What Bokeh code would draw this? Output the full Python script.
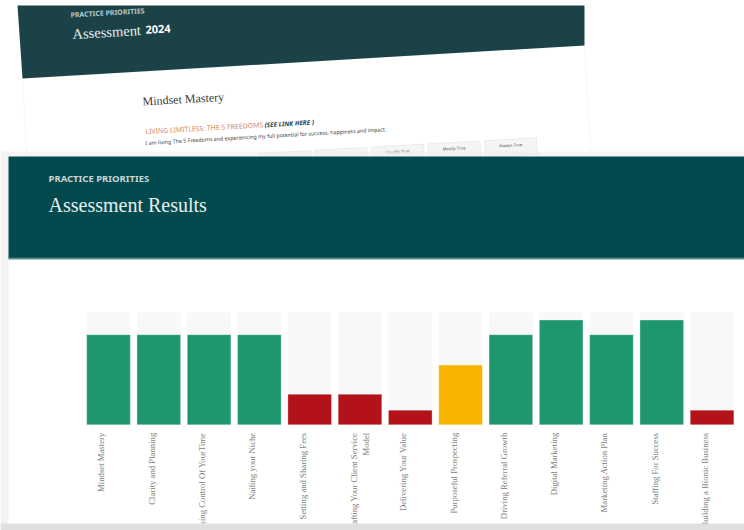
import math
from bokeh.plotting import figure
from bokeh.models import (FactorRange, Range1d, ColumnDataSource, BoxAnnotation,
                          PolyAnnotation, Label)
from bokeh.transform import dodge
from bokeh.embed import file_html
from bokeh.resources import INLINE
from bokeh.core.properties import value

# ---------------- data ----------------
categories = [
    "Mindset Mastery", "Clarity and Planning", "Taking Control Of YourTime",
    "Nailing your Niche", "Setting and Sharing Fees",
    "Crafting Your Client Service Model", "Delivering Your Value",
    "Purposeful Prospecting", "Driving Referral Growth", "Digital Marketing",
    "Marketing Action Plan", "Staffing For Success", "Building a Bionic Business",
]
tick_labels = [
    "Mindset Mastery", "Clarity and Planning", "Taking Control Of YourTime",
    "Nailing your Niche", "Setting and Sharing Fees",
    "Crafting Your Client Service\nModel", "Delivering Your Value",
    "Purposeful Prospecting", "Driving Referral Growth", "Digital Marketing",
    "Marketing Action Plan", "Staffing For Success", "Building a Bionic Business",
]
scores = [80, 80, 80, 80, 27, 27, 13, 53, 80, 93, 80, 93, 13]
max_score = 100
bar_colors = ["#1f976e", "#1f976e", "#1f976e", "#1f976e", "#b31318", "#b31318",
              "#b31318", "#f7b500", "#1f976e", "#1f976e", "#1f976e", "#1f976e", "#b31318"]

# ---------------- figure (frame = whole page) ----------------
source = ColumnDataSource(dict(
    cat=categories,
    score=scores,
    full=[max_score] * len(categories),
    base=[0] * len(categories),
    color=bar_colors,
    label=tick_labels,
    xoff=[0 if "\n" in t else -7 for t in tick_labels],
))

xr = FactorRange(factors=categories, range_padding=0.896, range_padding_units="absolute")
p = figure(width=744, height=530, x_range=xr,
           y_range=Range1d(-93.9, 376.8),
           output_backend="svg", toolbar_location=None,
           x_axis_location=None, y_axis_location=None,
           min_border=0, min_border_left=0, min_border_right=0,
           min_border_top=0, min_border_bottom=0,
           background_fill_color="white", border_fill_color="white",
           outline_line_color=None)
p.grid.visible = False

shift = 0.751  # chart area sits right of the page's left margin
xcat = dodge("cat", shift, range=xr)

p.vbar(x=xcat, top="full", bottom="base", width=0.867, source=source,
       fill_color="#f8f8f8", line_color=None)
p.vbar(x=xcat, top="score", bottom="base", width=0.867, source=source,
       fill_color="color", line_color="white", line_alpha=0.3, line_width=1)
p.text(x=xcat, y="base", text="label", source=source,
       angle=math.pi / 2, text_align="right", text_baseline="middle",
       x_offset="xoff", y_offset=8,
       text_font=value("Liberation Serif"), text_font_size="8.7px",
       text_color="#7d7d7d")


def poly(xs, ys, **kw):
    p.add_layout(PolyAnnotation(xs=xs, ys=ys, xs_units="canvas", ys_units="canvas",
                                fill_alpha=kw.pop("fill_alpha", 1), **kw))


def box(l, r, t, b, **kw):
    p.add_layout(BoxAnnotation(left=l, right=r, top=t, bottom=b,
                               left_units="canvas", right_units="canvas",
                               top_units="canvas", bottom_units="canvas",
                               fill_alpha=kw.pop("fill_alpha", 1), line_color=None, **kw))


def label(x, y, text, **kw):
    p.add_layout(Label(x=x, y=y, x_units="canvas", y_units="canvas", text=text,
                       text_baseline=kw.pop("text_baseline", "alphabetic"), **kw))


tilt = 0.057

# ---- background document (tilted) ----
poly([22, 584, 593, 31], [78, 45, 200, 233], fill_color="white",
     line_color="#e6e6e6", line_width=1)
poly([17, 584, 584, 22], [5, 5, 45, 78], fill_color="#1b4347", line_color=None)
label(70, 14.5, "PRACTICE PRIORITIES", angle=tilt, text_font="Noto Sans",
      text_font_style="bold", text_font_size="7px", text_color="#b7c8c8")
label(72, 33.5, "Assessment", angle=tilt, text_font="Liberation Serif",
      text_font_size="14.5px", text_color="#e9efef")
label(145, 29.3, "2024", angle=tilt, text_font="Noto Sans",
      text_font_style="bold", text_font_size="11px", text_color="#ffffff")
label(142, 101, "Mindset Mastery", angle=tilt, text_font="Liberation Serif",
      text_font_size="12px", text_color="#3a3a3a")
label(145, 131, "LIVING LIMITLESS: THE 5 FREEDOMS", angle=tilt,
      text_font="Noto Sans", text_font_size="6.9px", text_color="#d4875a")
label(264, 124.3, "(SEE LINK HERE )", angle=tilt, text_font="Noto Sans",
      text_font_style="bold italic", text_font_size="6.4px", text_color="#1b4347")
label(145, 142.5,
      "I am living The 5 Freedoms and experiencing my full potential for success, happiness and impact.",
      angle=tilt, text_font="Noto Sans", text_font_size="5.3px", text_color="#444444")
btn_texts = ["", "", "Usually True", "Mostly True", "Always True"]
for k, t in enumerate(btn_texts):
    x0 = 258 + 56.5 * k
    y0 = 153 - 3.2 * k
    poly([x0, x0 + 52, x0 + 53, x0 + 1], [y0, y0 - 3, y0 + 14, y0 + 17],
         fill_color="#f5f5f5", line_color="#cdcdcd", line_width=1)
    if t:
        label(x0 + 26, y0 + 4.5, t, angle=tilt, text_align="center",
              text_font="Noto Sans", text_font_size="4.2px", text_color="#555555")

# ---- front card ----
box(8, 744, 151, 156, fill_color="#efefef", fill_alpha=0.6)
box(0, 8, 151, 530, fill_color="#f2f2f2")
box(8, 744, 156, 258, fill_color="#034a4e")
box(8, 744, 257.3, 259, fill_color="#5f9191")
label(48, 177.7, "PRACTICE PRIORITIES", text_font="Noto Sans",
      text_font_style="bold", text_font_size="9.5px", text_color="#c6d4d4")
label(48, 204, "Assessment Results", text_font="Liberation Serif",
      text_font_size="20px", text_color="#e8eeee")
box(0, 744, 523, 530, fill_color="#e0e0e0")

open("out.html", "w").write(file_html(p, INLINE))
